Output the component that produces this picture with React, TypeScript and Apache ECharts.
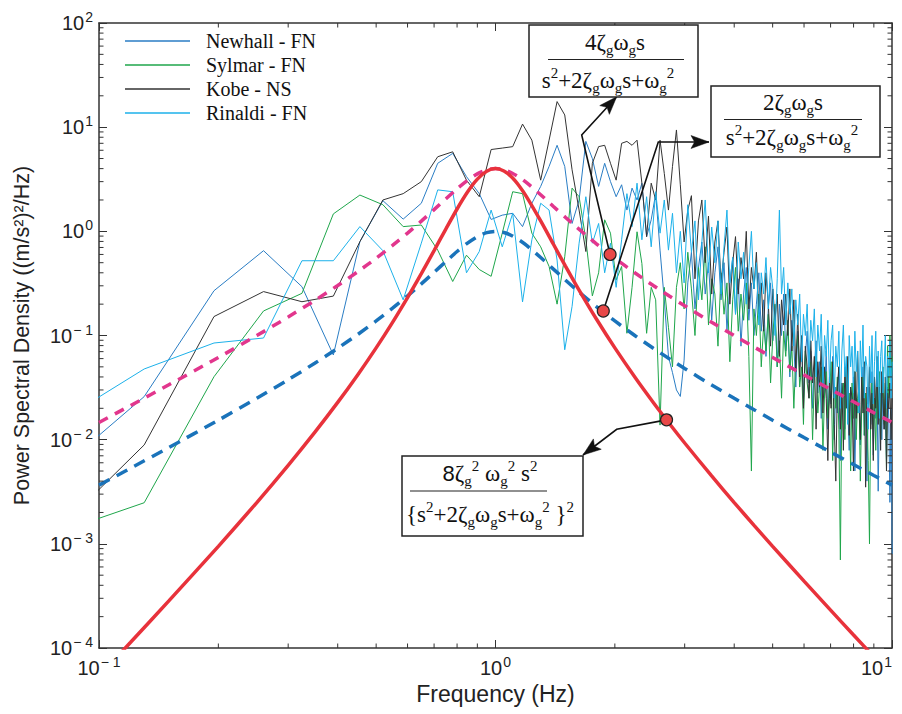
import React, { useEffect, useRef } from 'react';
import * as echarts from 'echarts';

// FFT frequency resolution (Hz); sample k sits at k * DF
const DF = 0.065;

// Power spectral densities, one value per frequency bin
const NEWHALL = [
  0.0027, 0.0259, 0.269, 0.652, 0.294, 0.065, 0.796, 1.97, 1.31, 1.86,
  4.5, 5.6, 3.35, 2.3, 1.3, 1.43, 1.49, 1.11, 1.86, 2.7,
  4.2, 6.7, 4.2, 1.19, 2.0, 7.3, 5.0, 2.7, 4.5, 3.0,
  2.15, 2.8, 1.6, 2.6, 2.0, 2.9, 0.89, 1.29, 2.3, 0.66,
  0.22, 0.063, 0.044, 0.03, 0.026, 0.058,
  0.32, 0.63, 0.18, 0.45, 0.79, 0.25, 0.5, 0.14, 0.4, 0.71,
  0.22, 0.5, 0.11, 0.32, 0.56, 0.16, 0.35, 0.079, 0.25, 0.45,
  0.14, 0.32, 0.1, 0.2, 0.4, 0.11, 0.22, 0.063, 0.18, 0.32,
  0.089, 0.16, 0.05, 0.2, 0.1, 0.25, 0.071, 0.126, 0.04, 0.14,
  0.079, 0.032, 0.11, 0.05, 0.089, 0.025, 0.063, 0.11, 0.035, 0.071,
  0.02, 0.05, 0.089, 0.028, 0.056, 0.016, 0.045, 0.025, 0.071, 0.0126,
  0.04, 0.022, 0.063, 0.01, 0.032, 0.018, 0.05, 0.0063, 0.028, 0.035,
  0.0126, 0.045, 0.02, 0.0079, 0.032, 0.016, 0.04, 0.005, 0.025, 0.018,
  0.035, 0.0089, 0.022, 0.05, 0.011, 0.028, 0.004, 0.02, 0.032, 0.014,
  0.045, 0.0071, 0.025, 0.016, 0.035, 0.0032, 0.02, 0.028, 0.01, 0.04,
  0.0126, 0.022, 0.0063, 0.032, 0.016, 0.0025, 0.02, 0.0008,
];

const SYLMAR = [
  0.001, 0.00248, 0.0402, 0.172, 0.254, 1.47, 2.23, 1.8, 1.11, 1.15,
  0.66, 0.33, 0.59, 0.43, 0.37, 0.96, 2.4, 2.3, 0.96, 0.71,
  0.46, 0.2, 0.57, 2.6, 2.15, 0.83, 0.24, 0.4, 1.29, 0.96,
  0.34, 0.46, 0.105, 0.29, 0.99, 0.49, 0.105, 0.29, 0.22, 0.0138,
  0.29, 0.12, 0.05, 0.29,
  0.5, 0.18, 0.63, 0.28, 0.1, 0.45, 0.22, 0.71, 0.126, 0.35,
  0.25, 0.079, 0.4, 0.16, 0.32, 0.056, 0.22, 0.45, 0.11, 0.25,
  0.14, 0.32, 0.063, 0.005, 0.18, 0.1, 0.25, 0.05, 0.126, 0.071,
  0.16, 0.035, 0.1, 0.2, 0.05, 0.089, 0.025, 0.11, 0.063, 0.14,
  0.045, 0.079, 0.02, 0.063, 0.1, 0.032, 0.05, 0.014, 0.071, 0.035,
  0.025, 0.056, 0.01, 0.04, 0.063, 0.018, 0.032, 0.05, 0.0079, 0.028,
  0.045, 0.016, 0.025, 0.056, 0.0063, 0.032, 0.02, 0.04, 0.0126, 0.0007,
  0.025, 0.035, 0.01, 0.05, 0.018, 0.028, 0.005, 0.035, 0.016, 0.045,
  0.01, 0.025, 0.032, 0.004, 0.02, 0.04, 0.011, 0.028, 0.018, 0.0063,
  0.001, 0.022, 0.035, 0.0126, 0.025, 0.0079, 0.032, 0.016, 0.045, 0.01,
  0.028, 0.05, 0.014, 0.035, 0.005, 0.079, 0.025, 0.1, 0.04, 0.063,
];

const KOBE = [
  0.00066, 0.0089, 0.152, 0.264, 0.211, 0.239, 0.796, 2.0, 2.3, 3.0,
  5.2, 5.8, 3.1, 2.15, 6.1, 6.3, 6.5, 10.7, 7.5, 3.1,
  7.5, 17.6, 13.1, 3.9, 1.6, 0.64, 4.5, 6.5, 6.7, 4.5,
  3.1, 7.0, 7.3, 6.7, 7.5, 2.9, 0.89, 2.9, 2.0, 7.5,
  3.6, 1.6, 4.2, 9.4,
  2.8, 0.79, 1.6, 2.2, 0.35, 1.26, 2.0, 0.5, 1.4, 0.25,
  0.79, 1.26, 0.32, 0.63, 1.1, 0.2, 0.5, 0.89, 0.25, 0.56,
  0.35, 1.0, 0.18, 0.45, 0.28, 0.63, 0.16, 0.32, 0.11, 0.4,
  0.2, 0.079, 0.28, 0.14, 0.25, 0.063, 0.22, 0.126, 0.25, 0.1,
  0.28, 0.071, 0.22, 0.045, 0.16, 0.04, 0.1, 0.02, 0.079, 0.05,
  0.025, 0.089, 0.035, 0.063, 0.0126, 0.056, 0.032, 0.079, 0.018, 0.05,
  0.025, 0.0063, 0.04, 0.02, 0.056, 0.014, 0.004, 0.032, 0.05, 0.0126,
  0.035, 0.0079, 0.05, 0.02, 0.063, 0.011, 0.032, 0.025, 0.005, 0.045,
  0.016, 0.071, 0.025, 0.01, 0.04, 0.018, 0.056, 0.0035, 0.032, 0.022,
  0.05, 0.0126, 0.028, 0.0063, 0.04, 0.02, 0.063, 0.014, 0.032, 0.0079,
  0.045, 0.025, 0.0126, 0.04, 0.005, 0.028, 0.02, 0.035, 0.01, 0.025,
];

const RINALDI = [
  0.0093, 0.0477, 0.0847, 0.0946, 0.522, 0.522, 1.11, 0.652, 0.22, 0.77,
  2.5, 2.4, 0.4, 0.64, 1.6, 0.71, 1.49, 0.21, 0.83, 1.86,
  1.6, 0.53, 0.073, 0.19, 0.77, 2.15, 0.77, 1.19, 0.4, 0.77,
  0.29, 0.83, 2.3, 1.11, 2.9, 0.83, 2.15, 0.71, 2.4, 0.96,
  2.0, 0.66, 1.49, 0.4,
  1.0, 0.32, 1.8, 0.63, 1.26, 0.22, 0.79, 2.0, 0.4, 1.1,
  0.5, 1.26, 0.25, 0.71, 1.6, 0.32, 0.56, 0.16, 0.79, 0.35,
  0.63, 0.2, 0.45, 1.0, 0.28, 0.5, 0.126, 0.4, 0.25, 0.56,
  0.18, 0.45, 0.28, 0.1, 0.35, 1.6, 0.25, 0.45, 0.126, 0.32,
  0.16, 0.28, 0.079, 0.22, 0.126, 0.25, 0.056, 0.16, 0.1, 0.2,
  0.05, 0.14, 0.089, 0.18, 0.04, 0.126, 0.071, 0.16, 0.032, 0.1,
  0.063, 0.14, 0.035, 0.089, 0.126, 0.025, 0.079, 0.05, 0.11, 0.02,
  0.071, 0.126, 0.04, 0.063, 0.014, 0.1, 0.05, 0.079, 0.028, 0.11,
  0.045, 0.071, 0.018, 0.089, 0.04, 0.126, 0.025, 0.063, 0.05, 0.0126,
  0.079, 0.035, 0.1, 0.022, 0.056, 0.11, 0.032, 0.071, 0.016, 0.063,
  0.089, 0.028, 0.05, 0.1, 0.02, 0.063, 0.04, 0.089, 0.025, 0.056,
];

const FREQ = NEWHALL.map((_, i) => +((i + 1) * DF).toFixed(3));

// Model spectra at these frequencies (Hz)
const CURVE_F = [
  0.1, 0.12, 0.15, 0.2, 0.25, 0.3, 0.35, 0.4, 0.45, 0.5,
  0.55, 0.6, 0.65, 0.7, 0.75, 0.8, 0.85, 0.9, 0.95, 1.0,
  1.05, 1.1, 1.15, 1.2, 1.3, 1.4, 1.5, 1.6, 1.8, 2.0,
  2.25, 2.5, 2.75, 3, 3.5, 4, 4.5, 5, 6, 7, 8, 9, 10,
];
// 2ζωs / (s²+2ζωs+ω²)  — blue dashed
const BLUE_PSD = [
  0.00366, 0.00531, 0.00841, 0.01538, 0.02496, 0.03765, 0.05417, 0.07547, 0.1028, 0.1379,
  0.1829, 0.2404, 0.3132, 0.4041, 0.5141, 0.64, 0.7716, 0.8898, 0.9716, 1.0,
  0.9742, 0.9081, 0.8207, 0.7281, 0.561, 0.4336, 0.3414, 0.2747, 0.1886, 0.1379,
  0.09945, 0.07547, 0.05946, 0.04819, 0.03367, 0.02496, 0.01929, 0.01538, 0.01047, 0.0076,
  0.00577, 0.004536, 0.00366,
];
// 4ζωs / (s²+2ζωs+ω²)  — magenta dashed
const PINK_PSD = [
  0.01464, 0.02124, 0.03364, 0.06152, 0.09984, 0.1506, 0.2167, 0.3019, 0.4112, 0.5516,
  0.7316, 0.9616, 1.253, 1.616, 2.056, 2.56, 3.086, 3.559, 3.886, 4.0,
  3.897, 3.632, 3.283, 2.912, 2.244, 1.734, 1.366, 1.099, 0.7544, 0.5516,
  0.3978, 0.3019, 0.2378, 0.1928, 0.1347, 0.09984, 0.07716, 0.06152, 0.04188, 0.0304,
  0.02308, 0.01814, 0.01464,
];
// 8ζ²ω²s² / {s²+2ζωs+ω²}²  — red solid
const RED_PSD = [
  5.36e-5, 1.128e-4, 2.83e-4, 9.46e-4, 2.49e-3, 5.67e-3, 0.01174, 0.02278, 0.04227, 0.07607,
  0.1338, 0.2312, 0.3924, 0.6532, 1.057, 1.638, 2.381, 3.167, 3.776, 4.0,
  3.796, 3.299, 2.694, 2.121, 1.259, 0.752, 0.4662, 0.3018, 0.1423, 0.07607,
  0.03956, 0.02278, 0.01414, 0.009289, 0.004535, 0.00249, 0.001488, 9.46e-4, 4.385e-4, 2.31e-4,
  1.332e-4, 8.23e-5, 5.36e-5,
];
const MARKERS = [[1.945, 0.6], [1.87, 0.172], [2.7, 0.0155]];

const X_MINOR = [0.2, 0.3, 0.4, 0.5, 0.6, 0.7, 0.8, 0.9, 2, 3, 4, 5, 6, 7, 8, 9];
const Y_DECADES = [1e-4, 1e-3, 1e-2, 1e-1, 1, 10];
const MINOR_MULT = [2, 3, 4, 5, 6, 7, 8, 9];
const Y_MINOR = Y_DECADES.flatMap((d) => MINOR_MULT.map((m) => +(d * m).toPrecision(2)));

const NAMES = ['Newhall - FN', 'Sylmar - FN', 'Kobe - NS', 'Rinaldi - FN'];
const COLORS = ['#2a7dc4', '#1fa64b', '#333333', '#1cb1ea'];

const SANS = 'Liberation Sans, Helvetica, Arial, sans-serif';
const SERIF = 'Liberation Serif, Times New Roman, serif';
const INK = '#222';

const sup = (v: number) => {
  const e = Math.round(Math.log10(v));
  return `{b|10}{s|${e < 0 ? '\u2212 ' + -e : e}}`;
};

const FRICH = {
  m: { fontFamily: SERIF, fontSize: 23, lineHeight: 30, verticalAlign: 'middle', fill: '#111' },
  n: { fontFamily: SANS, fontSize: 22, lineHeight: 30, verticalAlign: 'middle', fill: '#111' },
  b: { fontFamily: SERIF, fontSize: 15, lineHeight: 15, verticalAlign: 'bottom', fill: '#111' },
  p: { fontFamily: SERIF, fontSize: 15, lineHeight: 15, verticalAlign: 'top', fill: '#111' },
};

const DEN = '{m|s}{p|2}{m|+2ζ}{b|g}{m|ω}{b|g}{m|s+ω}{b|g}{p|2}';
const BOXES = [
  { x: 529, y: 25, w: 169, h: 72, num: '{m|4ζ}{b|g}{m|ω}{b|g}{m|s}', den: DEN, nx: 615, ny: 42, lx1: 548, lx2: 684, ly: 59.5, dx: 608, dy: 80 },
  { x: 711, y: 86, w: 169, h: 71, num: '{m|2ζ}{b|g}{m|ω}{b|g}{m|s}', den: DEN, nx: 793, ny: 102, lx1: 724, lx2: 862, ly: 119.5, dx: 792, dy: 137 },
  { x: 402, y: 456, w: 181, h: 80, num: '{n|8}{m|ζ}{b|g}{p|2}{m| ω}{b|g}{p|2}{m| s}{p|2}', den: '{m|{s}{p|2}{m|+2ζ}{b|g}{m|ω}{b|g}{m|s+ω}{b|g}{p|2}{m| }}{p|2}', nx: 490, ny: 473, lx1: 410, lx2: 547, ly: 491, dx: 490, dy: 514 },
];

function arrowHead(tip: number[], from: number[], len = 18, half = 6.5) {
  const dx = tip[0] - from[0];
  const dy = tip[1] - from[1];
  const L = Math.hypot(dx, dy) || 1;
  const ux = dx / L;
  const uy = dy / L;
  const bx = tip[0] - ux * len;
  const by = tip[1] - uy * len;
  return [
    [tip[0], tip[1]],
    [bx - uy * half, by + ux * half],
    [tip[0] - ux * len * 0.8, tip[1] - uy * len * 0.8],
    [bx + uy * half, by - ux * half],
  ];
}

const CANVAS_W = 902;

export default function App() {
  const ref = useRef<HTMLDivElement>(null);
  useEffect(() => {
    if (!ref.current) return;
    const chart = echarts.init(ref.current, undefined, { renderer: 'svg' });
    const axisLine = { show: true, lineStyle: { color: '#333', width: 1.5 } };
    const axisTick = { show: true, inside: true, length: 8, lineStyle: { color: '#333', width: 1 } };
    const labelRich = {
      b: { fontFamily: SANS, fontSize: 20, lineHeight: 26, color: INK },
      s: { fontFamily: SANS, fontSize: 14, lineHeight: 14, verticalAlign: 'top', color: INK, padding: [0, 0, 0, 1] },
    };
    const thin = (i: number, vals: number[]) => ({
      type: 'line',
      name: NAMES[i],
      data: FREQ.map((f, k) => [f, vals[k]]),
      showSymbol: false,
      symbol: 'none',
      lineStyle: { color: COLORS[i], width: 1 },
      itemStyle: { color: COLORS[i] },
      z: 2,
      clip: true,
    });
    const curve = (name: string, vals: number[], color: string, dash: any, z: number) => ({
      type: 'line',
      name,
      data: CURVE_F.map((f, k) => [f, vals[k]]),
      smooth: 0.25,
      symbol: 'none',
      showSymbol: false,
      lineStyle: { color, width: 3.5, type: dash },
      z,
      clip: true,
    });
    const option: any = {
      animation: false,
      backgroundColor: '#fff',
      grid: { left: 99, right: CANVAS_W - 892, top: 23, bottom: 66, containLabel: false, outerBoundsMode: 'none' },
      legend: {
        data: NAMES,
        orient: 'vertical',
        left: 125,
        top: 31,
        padding: 0,
        itemGap: 4,
        itemWidth: 65,
        itemHeight: 1.5,
        icon: 'rect',
        textStyle: { fontFamily: SERIF, fontSize: 20, lineHeight: 20, color: '#111', padding: [0, 0, 0, 11] },
      },
      xAxis: [
        {
          type: 'log', logBase: 10, min: 0.1, max: 10, position: 'bottom',
          axisLine, axisTick, splitLine: { show: false },
          axisLabel: { formatter: sup, rich: labelRich, margin: 7, alignMaxLabel: 'right' },
          name: 'Frequency (Hz)', nameLocation: 'middle', nameGap: 30,
          nameTextStyle: { fontFamily: SANS, fontSize: 23, color: INK },
        },
        {
          type: 'log', logBase: 10, min: 0.1, max: 10, position: 'top',
          axisLine, axisTick, splitLine: { show: false }, axisLabel: { show: false },
        },
      ],
      yAxis: [
        {
          type: 'log', logBase: 10, min: 1e-4, max: 100, position: 'left',
          axisLine, axisTick, splitLine: { show: false },
          axisLabel: { formatter: sup, rich: labelRich, margin: 6 },
          name: 'Power Spectral Density ((m/s²)²/Hz)', nameLocation: 'middle', nameGap: 66,
          nameTextStyle: { fontFamily: SANS, fontSize: 21.5, color: INK },
        },
        {
          type: 'log', logBase: 10, min: 1e-4, max: 100, position: 'right',
          axisLine, axisTick, splitLine: { show: false }, axisLabel: { show: false },
        },
      ],
      series: [
        thin(0, NEWHALL),
        thin(1, SYLMAR),
        thin(2, KOBE),
        thin(3, RINALDI),
        curve('pink', PINK_PSD, '#e2368d', [10, 8], 3),
        curve('blue', BLUE_PSD, '#1a73ba', [12, 8], 3),
        curve('red', RED_PSD, '#e8323b', 'solid', 4),
        {
          type: 'scatter', name: 'markers', data: MARKERS, symbol: 'circle', symbolSize: 12,
          itemStyle: { color: '#e84848', borderColor: '#222', borderWidth: 1.2, opacity: 1 }, z: 20,
        },
        {
          type: 'custom', name: 'xminor', silent: true, z: 5,
          data: X_MINOR.map((v) => [v, 1]),
          renderItem: (_p: any, api: any) => {
            const f = api.value(0);
            const b = api.coord([f, 1e-4]);
            const t = api.coord([f, 100]);
            const st = { stroke: '#333', lineWidth: 1 };
            return {
              type: 'group',
              children: [
                { type: 'line', shape: { x1: b[0], y1: b[1], x2: b[0], y2: b[1] - 4.5 }, style: st },
                { type: 'line', shape: { x1: t[0], y1: t[1], x2: t[0], y2: t[1] + 4.5 }, style: st },
              ],
            };
          },
        },
        {
          type: 'custom', name: 'yminor', silent: true, z: 5,
          data: Y_MINOR.map((v) => [1, v]),
          renderItem: (_p: any, api: any) => {
            const v = api.value(1);
            const l = api.coord([0.1, v]);
            const r = api.coord([10, v]);
            const st = { stroke: '#333', lineWidth: 1 };
            return {
              type: 'group',
              children: [
                { type: 'line', shape: { x1: l[0], y1: l[1], x2: l[0] + 4.5, y2: l[1] }, style: st },
                { type: 'line', shape: { x1: r[0], y1: r[1], x2: r[0] - 4.5, y2: r[1] }, style: st },
              ],
            };
          },
        },
      ],
    };
    chart.setOption(option);

    const px = (p: number[]) => chart.convertToPixel({ gridIndex: 0 } as any, p) as number[];
    const m1 = px(MARKERS[0]);
    const m2 = px(MARKERS[1]);
    const m3 = px(MARKERS[2]);
    const arrows = [
      { pts: [m1, [581.7, 135], [616.7, 96.7]] },
      { pts: [m2, [658.3, 142], [709, 142]] },
      { pts: [m3, [616.7, 429.3], [583, 455]] },
    ];
    const lineStyle = { stroke: '#111', lineWidth: 1.6, fill: null };
    const graphic: any[] = [];
    arrows.forEach((a) => {
      const n = a.pts.length;
      graphic.push({ type: 'polyline', z: 10, shape: { points: a.pts }, style: lineStyle, silent: true });
      graphic.push({
        type: 'polygon', z: 10, silent: true,
        shape: { points: arrowHead(a.pts[n - 1], a.pts[n - 2]) },
        style: { fill: '#111', stroke: '#111', lineWidth: 0.5 },
      });
    });
    BOXES.forEach((b) => {
      graphic.push({
        type: 'rect', z: 11, silent: true,
        shape: { x: b.x, y: b.y, width: b.w, height: b.h },
        style: { fill: '#fff', stroke: '#222', lineWidth: 1.5 },
      });
      graphic.push({
        type: 'line', z: 12, silent: true,
        shape: { x1: b.lx1, y1: b.ly, x2: b.lx2, y2: b.ly },
        style: { stroke: '#222', lineWidth: 1.2 },
      });
      graphic.push({
        type: 'text', z: 12, silent: true, x: b.nx, y: b.ny,
        style: { text: b.num, rich: FRICH, fontFamily: SERIF, fontSize: 23, fill: '#111', align: 'center', verticalAlign: 'middle' },
      });
      graphic.push({
        type: 'text', z: 12, silent: true, x: b.dx, y: b.dy,
        style: { text: b.den, rich: FRICH, fontFamily: SERIF, fontSize: 23, fill: '#111', align: 'center', verticalAlign: 'middle' },
      });
    });
    chart.setOption({ graphic });
    return () => chart.dispose();
  }, []);
  return (
    <div style={{ position: 'fixed', left: 0, top: 0, width: 902, height: 714, overflow: 'hidden', background: '#fff' }}>
      <div ref={ref} style={{ width: CANVAS_W, height: 714 }} />
    </div>
  );
}
